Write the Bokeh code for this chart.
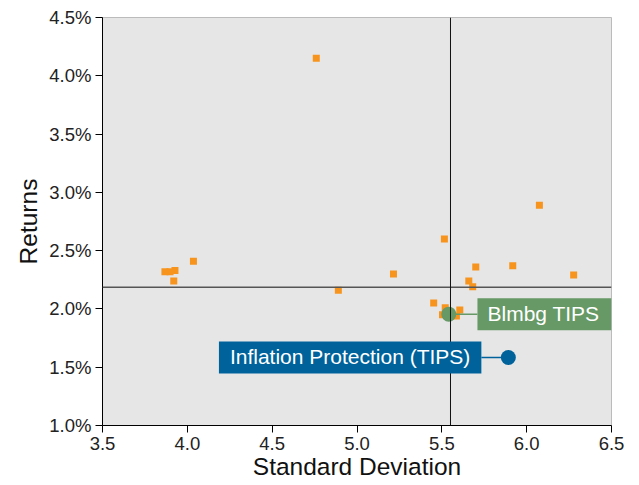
from bokeh.plotting import figure
from bokeh.models import (ColumnDataSource, Span, Label, NumeralTickFormatter,
                          FixedTicker, Range1d)
from bokeh.embed import file_html
from bokeh.resources import INLINE

# Peer universe (standard deviation, return %)
peer_sd = [4.76, 6.075, 5.515, 4.036, 3.868, 3.898, 3.927, 3.920, 4.89, 5.215,
           5.452, 5.70, 5.918, 6.277, 5.659, 5.682, 5.52, 5.606, 5.504, 5.586]
peer_ret = [4.15, 2.89, 2.60, 2.41, 2.32, 2.32, 2.33, 2.24, 2.16, 2.30,
            2.05, 2.36, 2.37, 2.29, 2.24, 2.19, 2.01, 1.99, 1.95, 1.94]

bench_name = "Blmbg TIPS"
bench_sd = 5.541
bench_ret = 1.955

fund_name = "Inflation Protection (TIPS)"
fund_sd = 5.892
fund_ret = 1.584

median_sd = 5.551
median_ret = 2.187

x_ticks = [3.5, 4.0, 4.5, 5.0, 5.5, 6.0, 6.5]
y_ticks = [1.0, 1.5, 2.0, 2.5, 3.0, 3.5, 4.0, 4.5]

FONT = "Liberation Sans"
ORANGE = "#F7941D"
GREEN = "#669966"
BLUE = "#00629B"

p = figure(width=631, height=483, output_backend="svg", toolbar_location=None,
           x_range=Range1d(3.5, 6.5), y_range=Range1d(0.01, 0.045),
           min_border_left=102, min_border_right=20, min_border_top=17,
           min_border_bottom=58)
p.background_fill_color = "#E6E6E6"
p.border_fill_color = "white"
p.outline_line_color = "#BBBBBB"
p.grid.visible = False

for ax in (p.xaxis[0], p.yaxis[0]):
    ax.axis_line_color = "black"
    ax.major_tick_line_color = "black"
    ax.major_tick_out = 7
    ax.major_tick_in = 0
    ax.minor_tick_line_color = None
    ax.major_label_text_font = FONT
    ax.major_label_text_font_size = "18.5px"
    ax.major_label_text_color = "#222222"
    ax.axis_label_text_font = FONT
    ax.axis_label_text_font_size = "24.5px"
    ax.axis_label_text_font_style = "normal"
    ax.axis_label_text_color = "#111111"

p.xaxis.ticker = FixedTicker(ticks=x_ticks)
p.yaxis.ticker = FixedTicker(ticks=[v / 100 for v in y_ticks])
p.xaxis.formatter = NumeralTickFormatter(format="0.0")
p.yaxis.formatter = NumeralTickFormatter(format="0.0%")
p.xaxis.axis_label = "Standard Deviation"
p.yaxis.axis_label = "Returns"
p.xaxis.major_label_standoff = 4
p.yaxis.major_label_standoff = 4
p.xaxis.axis_label_standoff = 0
p.yaxis.axis_label_standoff = 4

p.add_layout(Span(location=median_ret / 100, dimension="width",
                  line_color="#555555", line_width=1.5))
p.add_layout(Span(location=median_sd, dimension="height",
                  line_color="#111111", line_width=1))

src = ColumnDataSource(dict(x=peer_sd, y=[v / 100 for v in peer_ret]))
p.scatter("x", "y", source=src, marker="square", size=7,
          fill_color=ORANGE, line_color=None)

# connectors
p.line([bench_sd, 5.71], [bench_ret / 100] * 2, line_color=GREEN, line_width=1.5)
p.line([5.733, fund_sd], [fund_ret / 100] * 2, line_color=BLUE, line_width=1.5)

p.scatter([bench_sd], [bench_ret / 100], marker="circle", size=15,
          fill_color=GREEN, line_color=None)
p.scatter([fund_sd], [fund_ret / 100], marker="circle", size=15,
          fill_color=BLUE, line_color=None)

# padding order: (left, right, top, bottom)
p.add_layout(Label(x=5.71, y=bench_ret / 100, text=bench_name,
                   text_align="left", text_baseline="middle",
                   text_font=FONT, text_font_size="21px", text_color="white",
                   background_fill_color=GREEN, padding=(10, 12, 4, 5)))
p.add_layout(Label(x=5.733, y=fund_ret / 100, text=fund_name,
                   text_align="right", text_baseline="middle",
                   text_font=FONT, text_font_size="21px", text_color="white",
                   background_fill_color=BLUE, padding=(11, 11, 4, 5)))

open("out.html", "w").write(file_html(p, INLINE))
